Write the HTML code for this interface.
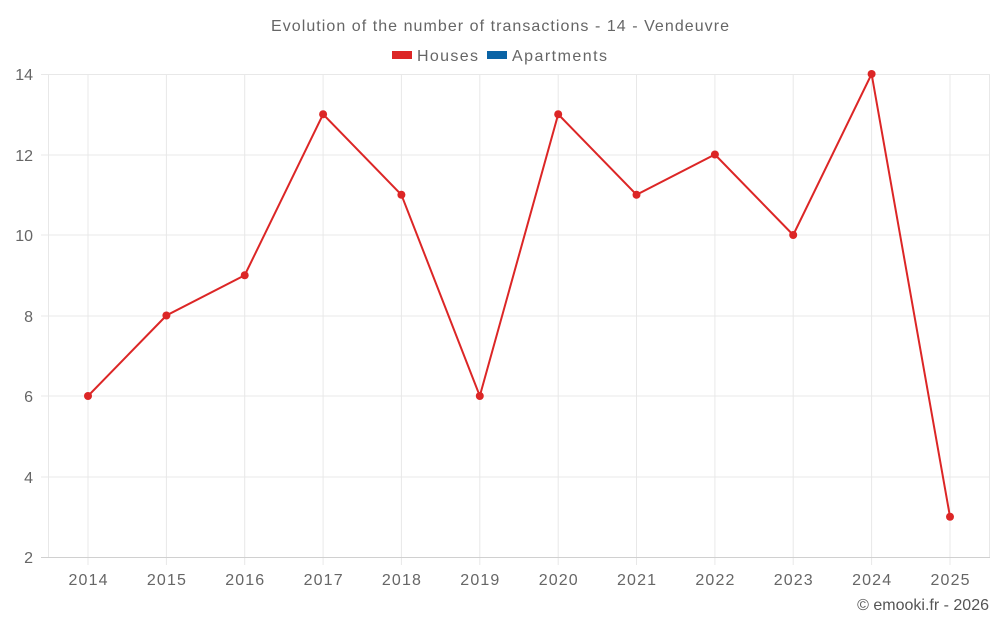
<!DOCTYPE html>
<html><head><style>body{margin:0;background:#fff}svg text{font-family:"Liberation Sans",sans-serif;fill:#666}</style></head><body>
<svg width="1000" height="625" xmlns="http://www.w3.org/2000/svg">
<g stroke="#e8e8e8" stroke-width="1">
<line x1="41" y1="74.5" x2="990" y2="74.5"/><line x1="41" y1="155" x2="990" y2="155"/><line x1="41" y1="235" x2="990" y2="235"/><line x1="41" y1="316" x2="990" y2="316"/><line x1="41" y1="396" x2="990" y2="396"/><line x1="41" y1="477" x2="990" y2="477"/>
<line x1="48.5" y1="74" x2="48.5" y2="557"/>
<line x1="88" y1="74" x2="88" y2="565"/><line x1="166.4" y1="74" x2="166.4" y2="565"/><line x1="244.7" y1="74" x2="244.7" y2="565"/><line x1="323.1" y1="74" x2="323.1" y2="565"/><line x1="401.4" y1="74" x2="401.4" y2="565"/><line x1="479.8" y1="74" x2="479.8" y2="565"/><line x1="558.2" y1="74" x2="558.2" y2="565"/><line x1="636.5" y1="74" x2="636.5" y2="565"/><line x1="714.9" y1="74" x2="714.9" y2="565"/><line x1="793.2" y1="74" x2="793.2" y2="565"/><line x1="871.6" y1="74" x2="871.6" y2="565"/><line x1="950" y1="74" x2="950" y2="565"/><line x1="989.5" y1="74" x2="989.5" y2="557"/>
</g>
<line x1="41" y1="557.5" x2="990" y2="557.5" stroke="#d0d0d0"/>
<g font-size="16" text-anchor="end">
<text x="33" y="80">14</text><text x="33" y="161">12</text><text x="33" y="241">10</text><text x="33" y="322">8</text><text x="33" y="402">6</text><text x="33" y="483">4</text><text x="33" y="563">2</text>
</g>
<g font-size="16" text-anchor="middle">
<text x="88" y="585" textLength="39">2014</text><text x="166.4" y="585" textLength="39">2015</text><text x="244.7" y="585" textLength="39">2016</text><text x="323.1" y="585" textLength="39">2017</text><text x="401.4" y="585" textLength="39">2018</text><text x="479.8" y="585" textLength="39">2019</text><text x="558.2" y="585" textLength="39">2020</text><text x="636.5" y="585" textLength="39">2021</text><text x="714.9" y="585" textLength="39">2022</text><text x="793.2" y="585" textLength="39">2023</text><text x="871.6" y="585" textLength="39">2024</text><text x="950" y="585" textLength="39">2025</text>
</g>
<text x="271" y="31" font-size="16" textLength="458">Evolution of the number of transactions - 14 - Vendeuvre</text>
<rect x="392" y="51" width="20" height="8" fill="#dc2626"/>
<text x="417" y="61" font-size="16" textLength="61">Houses</text>
<rect x="487" y="51" width="20" height="8" fill="#0a63a5"/>
<text x="512" y="61" font-size="16" textLength="95">Apartments</text>
<polyline fill="none" stroke="#dc2626" stroke-width="2" points="88,396 166.4,315.5 244.7,275.25 323.1,114.25 401.4,194.75 479.8,396 558.2,114.25 636.5,194.75 714.9,154.5 793.2,235 871.6,74 950,516.75"/>
<g fill="#dc2626">
<circle cx="88" cy="396" r="4"/><circle cx="166.4" cy="315.5" r="4"/><circle cx="244.7" cy="275.25" r="4"/><circle cx="323.1" cy="114.25" r="4"/><circle cx="401.4" cy="194.75" r="4"/><circle cx="479.8" cy="396" r="4"/><circle cx="558.2" cy="114.25" r="4"/><circle cx="636.5" cy="194.75" r="4"/><circle cx="714.9" cy="154.5" r="4"/><circle cx="793.2" cy="235" r="4"/><circle cx="871.6" cy="74" r="4"/><circle cx="950" cy="516.75" r="4"/>
</g>
<text x="989" y="610" font-size="16" text-anchor="end" style="fill:#555">© emooki.fr - 2026</text>
</svg>
</body></html>
